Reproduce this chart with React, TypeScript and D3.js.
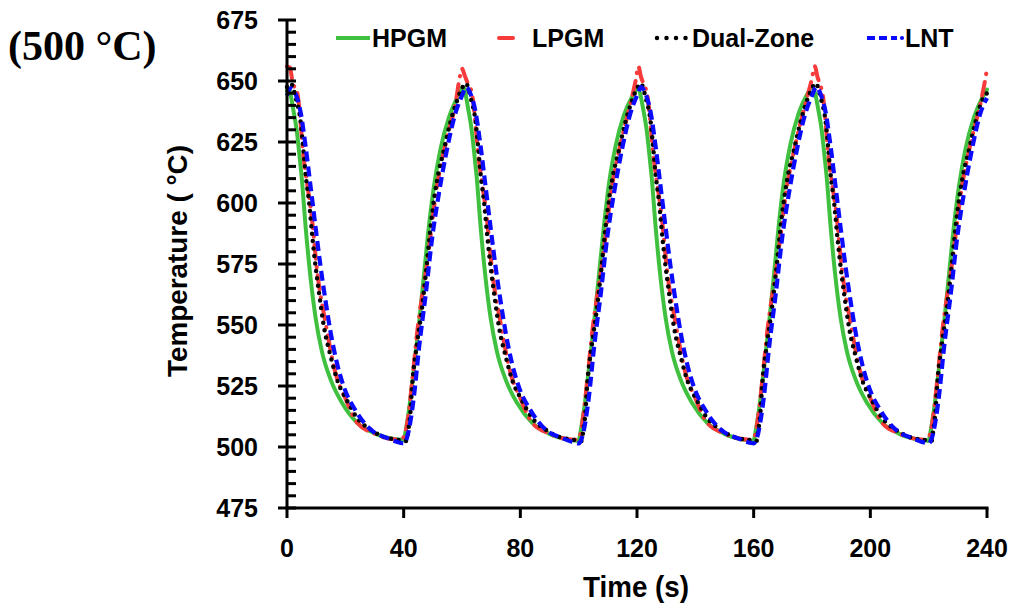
import React from "react";
import * as d3 from "d3";

// ---- data (time s, temperature °C) ----
const hpgm: [number, number][] = [
  [0, 646], [0.5, 647], [2.2, 638], [3.3, 630], [4.4, 618], [5, 611], [6.4, 590], [8.1, 569], [9.8, 553], [12, 539], [15, 527.5], [18.9, 518], [24, 510], [29.8, 505.7], [36.7, 503.3], [40, 503], [40.6, 506], [41.8, 515], [43.5, 532], [45.3, 551], [47, 571], [48.7, 591], [50.4, 607], [52.6, 622], [55.5, 635], [58.3, 643], [60.4, 647.5],
  [62.2, 638], [63.3, 630], [64.4, 618], [65, 611], [66.4, 590], [68.1, 569], [69.8, 553], [72, 539], [75, 527.5], [78.9, 518], [84, 510], [89.8, 505.5], [96.7, 503], [100, 502.5], [100.6, 506], [101.8, 515], [103.5, 532], [105.3, 551], [107, 571], [108.7, 591], [110.4, 608], [112.6, 623], [115.5, 636], [118.3, 643.5], [120.3, 647],
  [122.2, 638], [123.3, 630], [124.4, 618], [125, 611], [126.4, 590], [128.1, 569], [129.8, 553], [132, 539], [135, 527.5], [138.9, 518], [144, 510], [149.8, 505.5], [156.7, 503], [160, 502.5], [160.6, 506], [161.8, 515], [163.5, 532], [165.3, 551], [167, 571], [168.7, 592], [170.4, 609], [172.6, 624], [175.5, 637], [178.3, 644.5], [180.2, 647.5],
  [182.2, 638], [183.3, 630], [184.4, 618], [185, 611], [186.4, 590], [188.1, 569], [189.8, 553], [192, 539], [195, 527.5], [198.9, 518], [204, 510], [209.8, 505.5], [216.7, 503], [220, 502.5], [220.6, 506], [221.8, 515], [223.5, 532], [225.3, 551], [227, 571], [228.7, 591], [230.4, 607], [232.6, 622], [235.5, 635], [238.3, 643], [240, 646.5],
];

const lpgm: [number, number][] = [
  [0, 656], [1, 655.5], [2, 649], [3.4, 646], [5.8, 617.6], [8.6, 593], [10.3, 572.5], [13.2, 551], [16.7, 530], [20, 520], [24, 510], [30, 505.5], [38.4, 503], [40, 504], [41.5, 512], [43, 528], [44.6, 546.7], [48, 575], [51.4, 606.6], [54.5, 625], [57.8, 641], [59.3, 652], [60, 655],
  [61, 652], [62, 649], [63.4, 645], [65.8, 617.6], [68.6, 593], [70.3, 572.5], [73.2, 551], [76.7, 530], [80, 520], [84, 510], [90, 505.5], [98.4, 503], [100, 503.5], [101.5, 512], [103, 528], [104.6, 546.7], [108, 575], [111.4, 606.6], [114.5, 625], [117.8, 641], [119.5, 650], [120.5, 656],
  [121.3, 652], [122.2, 649], [123.4, 645], [125.8, 617.6], [128.6, 593], [130.3, 572.5], [133.2, 551], [136.7, 530], [140, 520], [144, 510], [150, 505.5], [158.4, 503], [160, 503.5], [161.5, 512], [163, 528], [164.6, 546.7], [168, 575], [171.4, 606.6], [174.5, 625], [177.8, 641], [179.8, 650], [181, 656],
  [181.8, 652], [182.6, 649], [183.6, 645], [185.8, 617.6], [188.6, 593], [190.3, 572.5], [193.2, 551], [196.7, 530], [200, 520], [204, 510], [210, 505.5], [218.4, 503], [220, 504], [221.5, 512], [223, 528], [224.6, 546.7], [228, 575], [231.4, 606.6], [234.5, 625], [237.8, 641], [239.3, 650], [240, 655],
];

const dualZone: [number, number][] = [
  [0, 647.5], [1.3, 649], [3, 643], [4.7, 633], [5.3, 626], [6.4, 611.5], [7.6, 600], [8.7, 586], [9.8, 574], [11, 563], [12.7, 549], [15, 537], [17.2, 527.5], [20.6, 519], [24, 512], [28.8, 507], [33.5, 504], [37.8, 503], [41, 502.5], [41.6, 507], [42.3, 514], [42.9, 525], [44.6, 542.6], [46.3, 557], [47.6, 571], [49.8, 596], [51.4, 609], [53.8, 621.7], [56, 633], [58.3, 642], [60, 647],
  [61.3, 649], [63, 643], [64.7, 633], [65.3, 626], [66.4, 611.5], [67.6, 600], [68.7, 586], [69.8, 574], [71, 563], [72.7, 549], [75, 537], [77.2, 527.5], [80.6, 519], [84, 512], [88.8, 507], [93.5, 504], [97.8, 503], [101, 502.5], [101.6, 507], [102.3, 514], [102.9, 525], [104.6, 542.6], [106.3, 557], [107.6, 571], [109.8, 596], [111.4, 609], [113.8, 621.7], [116, 633], [118.3, 642], [120, 647],
  [121.3, 649], [123, 643], [124.7, 633], [125.3, 626], [126.4, 611.5], [127.6, 600], [128.7, 586], [129.8, 574], [131, 563], [132.7, 549], [135, 537], [137.2, 527.5], [140.6, 519], [144, 512], [148.8, 507], [153.5, 504], [157.8, 503], [161, 502.5], [161.6, 507], [162.3, 514], [162.9, 525], [164.6, 542.6], [166.3, 557], [167.6, 571], [169.8, 596], [171.4, 609], [173.8, 621.7], [176, 633], [178.3, 642], [180, 647],
  [181.3, 649], [183, 643], [184.7, 633], [185.3, 626], [186.4, 611.5], [187.6, 600], [188.7, 586], [189.8, 574], [191, 563], [192.7, 549], [195, 537], [197.2, 527.5], [200.6, 519], [204, 512], [208.8, 507], [213.5, 504], [217.8, 503], [221, 502.5], [221.6, 507], [222.3, 514], [222.9, 525], [224.6, 542.6], [226.3, 557], [227.6, 571], [229.8, 596], [231.4, 609], [233.8, 621.7], [236, 633], [238.3, 642], [240, 645],
];

const lnt: [number, number][] = [
  [0, 644], [1.2, 647], [3, 644.5], [4.7, 637], [6.4, 623], [8.1, 606.6], [9.8, 590], [11.5, 574], [13.2, 560], [15, 546.7], [17.2, 534], [19.5, 524.6], [23.5, 515], [28.8, 507], [34.3, 503.7], [39, 501.7], [40, 501.5], [41.1, 503.7], [43.5, 520.5], [45.3, 541], [47.6, 563], [49.8, 586], [52.1, 604], [54.8, 621.7], [57.8, 637], [60, 644],
  [61.4, 647.5], [63, 644.5], [64.7, 637], [66.4, 623], [68.1, 606.6], [69.8, 590], [71.5, 574], [73.2, 560], [75, 546.7], [77.2, 534], [79.5, 524.6], [83.5, 515], [88.8, 507], [94.3, 503.7], [99, 501.7], [100, 501.5], [101.1, 503.7], [103.5, 520.5], [105.3, 541], [107.6, 563], [109.8, 586], [112.1, 604], [114.8, 621.7], [117.8, 637], [120, 644],
  [121.4, 647.5], [123, 644.5], [124.7, 637], [126.4, 623], [128.1, 606.6], [129.8, 590], [131.5, 574], [133.2, 560], [135, 546.7], [137.2, 534], [139.5, 524.6], [143.5, 515], [148.8, 507], [154.3, 503.7], [159, 501.7], [160, 501.5], [161.1, 503.7], [163.5, 520.5], [165.3, 541], [167.6, 563], [169.8, 586], [172.1, 604], [174.8, 621.7], [177.8, 637], [180, 644],
  [181.4, 647.5], [183, 644.5], [184.7, 637], [186.4, 623], [188.1, 606.6], [189.8, 590], [191.5, 574], [193.2, 560], [195, 546.7], [197.2, 534], [199.5, 524.6], [203.5, 515], [208.8, 507], [214.3, 503.7], [219, 501.7], [220, 501.5], [221.1, 503.7], [223.5, 520.5], [225.3, 541], [227.6, 563], [229.8, 586], [232.1, 604], [234.8, 621.7], [237.8, 637], [240, 643],
];

const seriesNames = ["HPGM", "LPGM", "Dual-Zone", "LNT"];
const xTickValues = [0, 40, 80, 120, 160, 200, 240];
const yTickValues = [475, 500, 525, 550, 575, 600, 625, 650, 675];
const yMinorStep = 5;

const SANS = "'Liberation Sans', Arial, Helvetica, sans-serif";
const SERIF = "'Liberation Serif', 'Times New Roman', serif";

const styles = [
  { color: "#3fc03f", dash: undefined as string | undefined, cap: "round", width: 4 },
  { color: "#f73a3a", dash: "14 8 0.5 8", cap: "round", width: 4 },
  { color: "#000000", dash: "0 7.5", cap: "round", width: 4.5 },
  { color: "#0a0aff", dash: "10 5", cap: "butt", width: 4.2 },
];

export default function App() {
  const W = 1013;
  const H = 608;
  const x = d3.scaleLinear().domain([0, 240]).range([287, 987]);
  const y = d3.scaleLinear().domain([475, 675]).range([508, 20]);
  const line = d3
    .line<[number, number]>()
    .x((d) => x(d[0]))
    .y((d) => y(d[1]))
    .curve(d3.curveMonotoneX);

  const allSeries = [hpgm, lpgm, dualZone, lnt];
  const minorTicks = d3.range(475, 675 + 0.01, yMinorStep).filter((v) => !yTickValues.includes(v));
  const x0 = x(0);
  const yBase = y(475);

  return (
    <svg
      width={W}
      height={H}
      viewBox={`0 0 ${W} ${H}`}
      style={{ position: "absolute", left: 0, top: 0, background: "#fff" }}
    >
      <rect x={0} y={0} width={W} height={H} fill="#fff" />
      {/* title */}
      <text x={8} y={60} fontFamily={SERIF} fontWeight="bold" fontSize={42} fill="#000">
        (500 °C)
      </text>

      {/* series */}
      {allSeries.map((s, i) => (
        <path
          key={seriesNames[i]}
          d={line(s) || ""}
          fill="none"
          stroke={styles[i].color}
          strokeWidth={styles[i].width}
          strokeDasharray={styles[i].dash}
          strokeLinecap={styles[i].cap as any}
          strokeLinejoin="round"
        />
      ))}

      {/* y axis */}
      <line x1={x0} x2={x0} y1={y(675)} y2={yBase} stroke="#000" strokeWidth={3} />
      {yTickValues.map((v) => (
        <g key={"yt" + v}>
          <line x1={x0 - 9} x2={x0 + 9} y1={y(v)} y2={y(v)} stroke="#000" strokeWidth={3} />
          <text
            x={258}
            y={y(v) + 9}
            textAnchor="end"
            fontFamily={SANS}
            fontWeight="bold"
            fontSize={25}
            fill="#000"
          >
            {v}
          </text>
        </g>
      ))}
      {minorTicks.map((v) => (
        <line key={"ym" + v} x1={x0} x2={x0 + 9} y1={y(v)} y2={y(v)} stroke="#000" strokeWidth={3} />
      ))}

      {/* x axis */}
      <line x1={x0 - 1.5} x2={x(240) + 1.5} y1={yBase} y2={yBase} stroke="#000" strokeWidth={3} />
      {xTickValues.map((v) => (
        <g key={"xt" + v}>
          <line x1={x(v)} x2={x(v)} y1={yBase} y2={yBase + 10} stroke="#000" strokeWidth={3} />
          <text
            x={x(v)}
            y={557}
            textAnchor="middle"
            fontFamily={SANS}
            fontWeight="bold"
            fontSize={25}
            fill="#000"
          >
            {v}
          </text>
        </g>
      ))}

      {/* axis titles */}
      <text
        x={636}
        y={597}
        textAnchor="middle"
        fontFamily={SANS}
        fontWeight="bold"
        fontSize={30}
        textLength={106}
        lengthAdjust="spacingAndGlyphs"
        fill="#000"
      >
        Time (s)
      </text>
      <text
        transform="translate(187,261) rotate(-90)"
        textAnchor="middle"
        fontFamily={SANS}
        fontWeight="bold"
        fontSize={28}
        textLength={232}
        lengthAdjust="spacingAndGlyphs"
        fill="#000"
      >
        Temperature ( °C)
      </text>

      {/* legend */}
      <g fontFamily={SANS} fontWeight="bold" fontSize={25} fill="#000">
        <line x1={336} x2={370} y1={38} y2={38} stroke={styles[0].color} strokeWidth={4} />
        <text x={372} y={47}>{seriesNames[0]}</text>
        <line x1={499} x2={513} y1={38} y2={38} stroke={styles[1].color} strokeWidth={4} strokeLinecap="round" />
        <text x={532} y={47}>{seriesNames[1]}</text>
        <line x1={657} x2={686} y1={38} y2={38} stroke="#000" strokeWidth={4.5} strokeDasharray="0 9.5" strokeLinecap="round" />
        <text x={692} y={47}>{seriesNames[2]}</text>
        <line x1={867} x2={897} y1={38} y2={38} stroke={styles[3].color} strokeWidth={4.2} strokeDasharray="8 4" />
        <circle cx={902} cy={38} r={2.1} fill={styles[3].color} />
        <text x={905} y={47}>{seriesNames[3]}</text>
      </g>
    </svg>
  );
}
